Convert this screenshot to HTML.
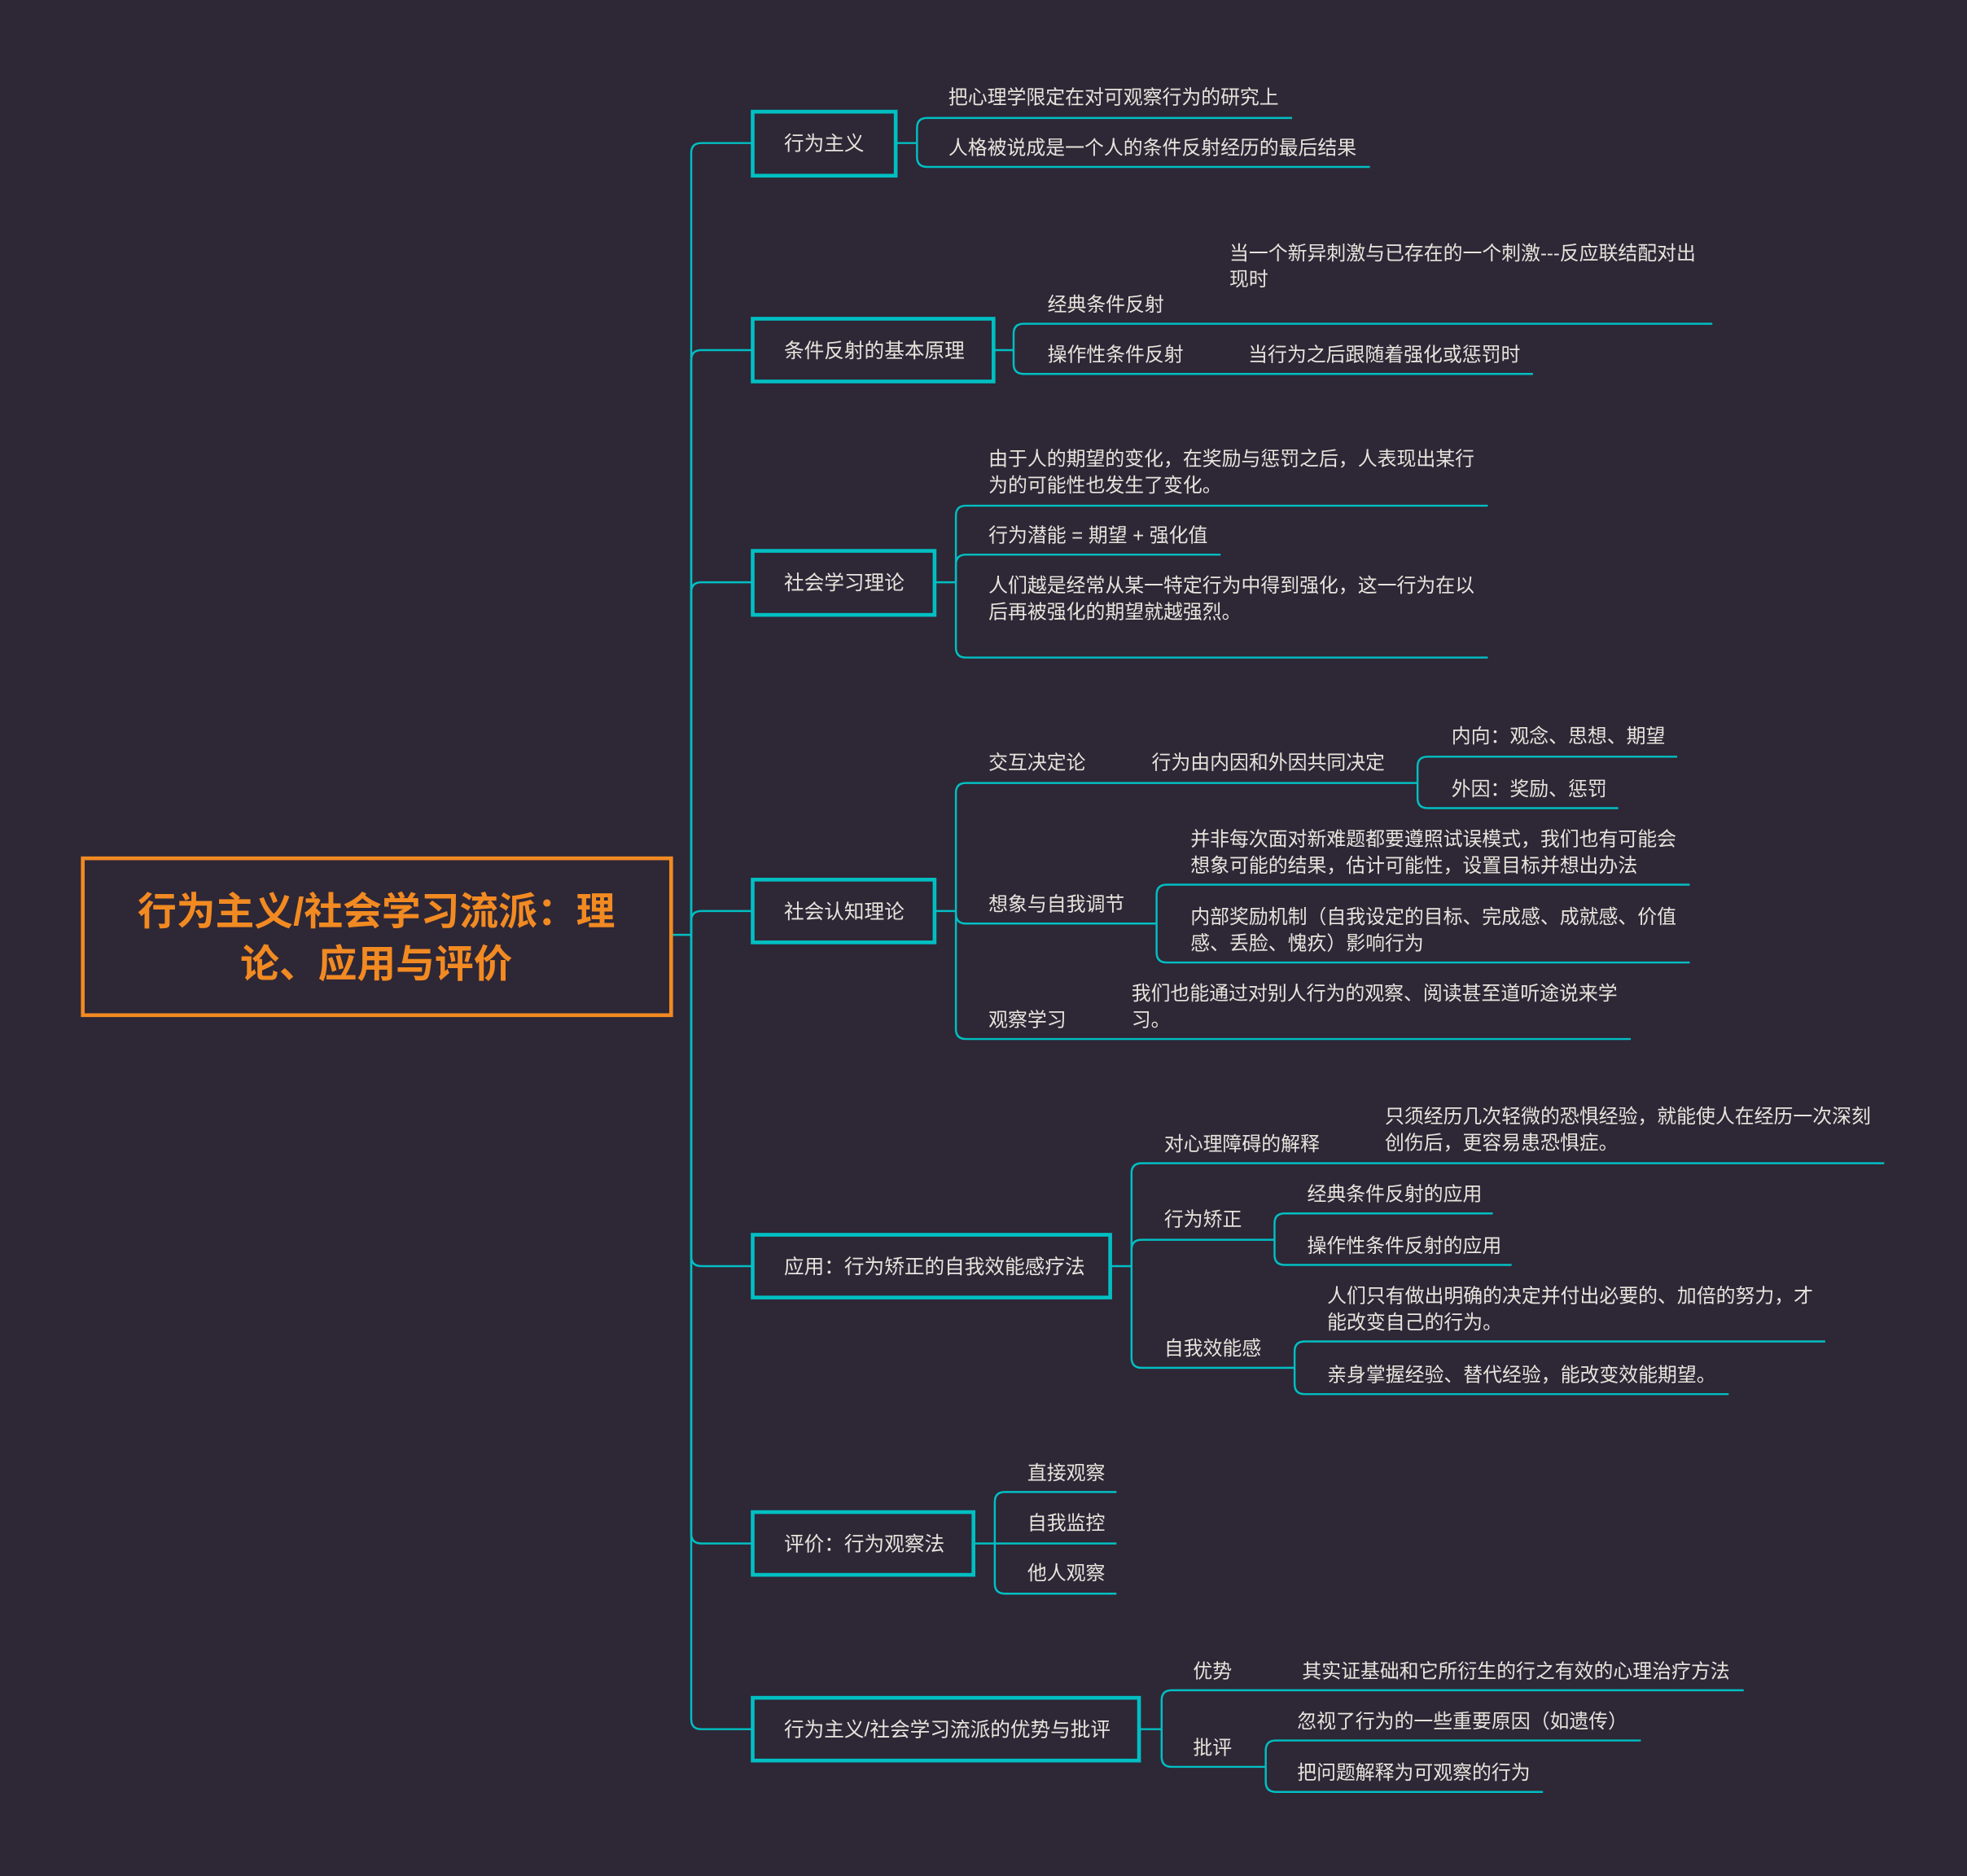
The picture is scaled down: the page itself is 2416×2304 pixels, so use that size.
<!DOCTYPE html>
<html><head><meta charset="utf-8"><style>
html,body{margin:0;padding:0;background:#2e2736;}
svg{display:block}
text{font-family:"Liberation Sans","Noto Sans CJK SC",sans-serif;fill:#e6e4dc;font-size:15.5px;dominant-baseline:central;transform:translateY(1px);}
.b{font-size:16px;}
.r{font-size:31px;font-weight:bold;fill:#f28a22;text-anchor:middle;}
path,line{fill:none;stroke:#00bfc2;stroke-width:1.6;}
.box{fill:#2e2736;stroke:#00bfc2;stroke-width:3;}
</style></head><body>
<svg width="2416" height="2304" viewBox="0 0 1568 1495" preserveAspectRatio="none" xmlns="http://www.w3.org/2000/svg">
<rect x="0" y="0" width="1568" height="1495" fill="#2e2736"/>
<path d="M535 745 H551"/>
<path d="M551 745 V122 Q551 114 559 114 H600"/>
<path d="M551 745 V287 Q551 279 559 279 H600"/>
<path d="M551 745 V472 Q551 464 559 464 H600"/>
<path d="M551 745 V734 Q551 726 559 726 H600"/>
<path d="M551 745 V1001 Q551 1009 559 1009 H600"/>
<path d="M551 745 V1222 Q551 1230 559 1230 H600"/>
<path d="M551 745 V1370 Q551 1378 559 1378 H600"/>
<rect x="66" y="684" width="469" height="125" fill="#2e2736" stroke="#f28a22" stroke-width="3"/>
<text class="r" x="300" y="726">行为主义/社会学习流派：理</text>
<text class="r" x="300" y="768">论、应用与评价</text>

<rect class="box" x="600" y="89" width="114" height="51"/>
<text class="b" x="625" y="114">行为主义</text>
<path d="M714 114 H731"/>
<path d="M731 114 V102 Q731 94 739 94 H1030"/>
<path d="M731 114 V125 Q731 133 739 133 H1092"/>
<text x="756" y="77">把心理学限定在对可观察行为的研究上</text>
<text x="756" y="117">人格被说成是一个人的条件反射经历的最后结果</text>

<rect class="box" x="600" y="254" width="192" height="50"/>
<text class="b" x="625" y="279">条件反射的基本原理</text>
<path d="M792 279 H808"/>
<path d="M808 279 V266 Q808 258 816 258 H1365"/>
<path d="M808 279 V290 Q808 298 816 298 H1222"/>
<text x="835" y="242">经典条件反射</text>
<text x="980" y="201">当一个新异刺激与已存在的一个刺激---反应联结配对出</text>
<text x="980" y="222">现时</text>
<text x="835" y="282">操作性条件反射</text>
<text x="995" y="282">当行为之后跟随着强化或惩罚时</text>

<rect class="box" x="600" y="439" width="145" height="51"/>
<text class="b" x="625" y="464">社会学习理论</text>
<path d="M745 464 H762"/>
<path d="M762 464 V411 Q762 403 770 403 H1186"/>
<path d="M762 464 V450 Q762 442 770 442 H973"/>
<path d="M762 464 V516 Q762 524 770 524 H1186"/>
<text x="788" y="365">由于人的期望的变化，在奖励与惩罚之后，人表现出某行</text>
<text x="788" y="386">为的可能性也发生了变化。</text>
<text x="788" y="426">行为潜能 = 期望 + 强化值</text>
<text x="788" y="466">人们越是经常从某一特定行为中得到强化，这一行为在以</text>
<text x="788" y="487">后再被强化的期望就越强烈。</text>

<rect class="box" x="600" y="701" width="145" height="50"/>
<text class="b" x="625" y="726">社会认知理论</text>
<path d="M745 726 H762"/>
<path d="M762 726 V632 Q762 624 770 624 H1130"/>
<path d="M762 726 V728 Q762 736 770 736 H922"/>
<path d="M762 726 V820 Q762 828 770 828 H1300"/>
<text x="788" y="607">交互决定论</text>
<text x="918" y="607">行为由内因和外因共同决定</text>
<path d="M1130 624 V611 Q1130 603 1138 603 H1337"/>
<path d="M1130 624 V636 Q1130 644 1138 644 H1290"/>
<text x="1157" y="586">内向：观念、思想、期望</text>
<text x="1157" y="628">外因：奖励、惩罚</text>
<text x="788" y="720">想象与自我调节</text>
<path d="M922 736 V713 Q922 705 930 705 H1347"/>
<path d="M922 736 V759 Q922 767 930 767 H1347"/>
<text x="949" y="668">并非每次面对新难题都要遵照试误模式，我们也有可能会</text>
<text x="949" y="689">想象可能的结果，估计可能性，设置目标并想出办法</text>
<text x="949" y="730">内部奖励机制（自我设定的目标、完成感、成就感、价值</text>
<text x="949" y="751">感、丢脸、愧疚）影响行为</text>
<text x="788" y="812">观察学习</text>
<text x="902" y="791">我们也能通过对别人行为的观察、阅读甚至道听途说来学</text>
<text x="902" y="812">习。</text>

<rect class="box" x="600" y="984" width="285" height="50"/>
<text class="b" x="625" y="1009">应用：行为矫正的自我效能感疗法</text>
<path d="M885 1009 H902"/>
<path d="M902 1009 V935 Q902 927 910 927 H1502"/>
<path d="M902 1009 V996 Q902 988 910 988 H1016"/>
<path d="M902 1009 V1082 Q902 1090 910 1090 H1032"/>
<text x="928" y="911">对心理障碍的解释</text>
<text x="1104" y="889">只须经历几次轻微的恐惧经验，就能使人在经历一次深刻</text>
<text x="1104" y="910">创伤后，更容易患恐惧症。</text>
<text x="928" y="971">行为矫正</text>
<path d="M1016 988 V975 Q1016 967 1024 967 H1190"/>
<path d="M1016 988 V1000 Q1016 1008 1024 1008 H1205"/>
<text x="1042" y="951">经典条件反射的应用</text>
<text x="1042" y="992">操作性条件反射的应用</text>
<text x="928" y="1074">自我效能感</text>
<path d="M1032 1090 V1077 Q1032 1069 1040 1069 H1455"/>
<path d="M1032 1090 V1103 Q1032 1111 1040 1111 H1378"/>
<text x="1058" y="1032">人们只有做出明确的决定并付出必要的、加倍的努力，才</text>
<text x="1058" y="1053">能改变自己的行为。</text>
<text x="1058" y="1095">亲身掌握经验、替代经验，能改变效能期望。</text>

<rect class="box" x="600" y="1205" width="176" height="50"/>
<text class="b" x="625" y="1230">评价：行为观察法</text>
<path d="M776 1230 H793"/>
<path d="M793 1230 V1197 Q793 1189 801 1189 H890"/>
<path d="M793 1230 H890"/>
<path d="M793 1230 V1262 Q793 1270 801 1270 H890"/>
<text x="819" y="1173">直接观察</text>
<text x="819" y="1213">自我监控</text>
<text x="819" y="1253">他人观察</text>

<rect class="box" x="600" y="1353" width="308" height="50"/>
<text class="b" x="625" y="1378">行为主义/社会学习流派的优势与批评</text>
<path d="M908 1378 H926"/>
<path d="M926 1378 V1355 Q926 1347 934 1347 H1390"/>
<path d="M926 1378 V1400 Q926 1408 934 1408 H1009"/>
<text x="951" y="1331">优势</text>
<text x="1038" y="1331">其实证基础和它所衍生的行之有效的心理治疗方法</text>
<text x="951" y="1392">批评</text>
<path d="M1009 1408 V1395 Q1009 1387 1017 1387 H1308"/>
<path d="M1009 1408 V1420 Q1009 1428 1017 1428 H1230"/>
<text x="1034" y="1371">忽视了行为的一些重要原因（如遗传）</text>
<text x="1034" y="1412">把问题解释为可观察的行为</text>
</svg>
</body></html>
